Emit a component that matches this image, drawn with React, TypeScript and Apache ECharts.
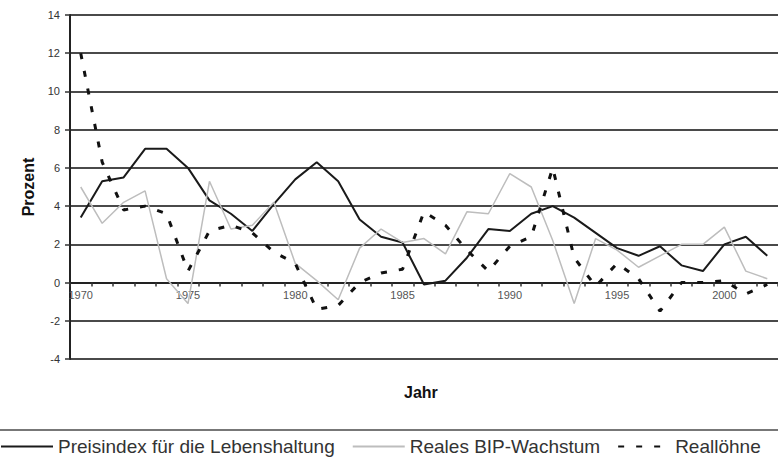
import React, { useEffect, useRef } from "react";
import * as echarts from "echarts";

const years = [
  "1970", "1971", "1972", "1973", "1974", "1975", "1976", "1977", "1978", "1979",
  "1980", "1981", "1982", "1983", "1984", "1985", "1986", "1987", "1988", "1989",
  "1990", "1991", "1992", "1993", "1994", "1995", "1996", "1997", "1998", "1999",
  "2000", "2001", "2002",
];

const preisindex = [
  3.4, 5.3, 5.5, 7.0, 7.0, 6.0, 4.3, 3.6, 2.7, 4.1,
  5.4, 6.3, 5.3, 3.3, 2.4, 2.1, -0.1, 0.1, 1.3, 2.8,
  2.7, 3.6, 4.0, 3.4, 2.6, 1.8, 1.4, 1.9, 0.9, 0.6,
  2.0, 2.4, 1.4,
];

const bipWachstum = [
  5.0, 3.1, 4.2, 4.8, 0.2, -1.1, 5.3, 2.8, 3.0, 4.2,
  1.0, 0.1, -0.9, 1.8, 2.8, 2.1, 2.3, 1.5, 3.7, 3.6,
  5.7, 5.0, 2.2, -1.1, 2.3, 1.7, 0.8, 1.4, 2.0, 2.0,
  2.9, 0.6, 0.2,
];

const realloehne = [
  12.0, 6.3, 3.8, 4.0, 3.6, 0.6, 2.7, 3.0, 2.6, 1.6,
  1.0, -1.4, -1.2, 0.0, 0.5, 0.7, 3.7, 3.0, 1.7, 0.6,
  1.9, 2.4, 6.0, 1.3, -0.2, 1.0, 0.2, -1.5, 0.0, 0.0,
  0.1, -0.6, -0.1,
];

const seriesNames = [
  "Preisindex für die Lebenshaltung",
  "Reales BIP-Wachstum",
  "Reallöhne",
];

const yMin = -4;
const yMax = 14;
const yStep = 2;

const GRID_TOP = 15;
const GRID_BOTTOM_Y = 359;

export default function App() {
  const ref = useRef<HTMLDivElement>(null);

  useEffect(() => {
    const chart = echarts.init(ref.current!, null, { renderer: "svg" });
    const font = "'Liberation Sans', Arial, sans-serif";
    const plotH = GRID_BOTTOM_Y - GRID_TOP;
    // move the category axis (line, ticks and labels) up to the value 0
    const zeroOffset = -plotH * (0 - yMin) / (yMax - yMin);
    chart.setOption({
      animation: false,
      backgroundColor: "#ffffff",
      textStyle: { fontFamily: font },
      grid: { left: 70, right: 0, top: GRID_TOP, bottom: 462 - GRID_BOTTOM_Y, containLabel: false },
      xAxis: {
        type: "category",
        data: years,
        boundaryGap: true,
        position: "bottom",
        offset: zeroOffset,
        axisLine: { onZero: false, lineStyle: { color: "#222", width: 2 } },
        axisTick: { show: true, interval: 0, length: 4, lineStyle: { color: "#333", width: 1.5 } },
        axisLabel: { interval: 4, color: "#555", fontSize: 11, fontFamily: font, margin: 7 },
        splitLine: { show: false },
      },
      yAxis: {
        type: "value",
        min: yMin,
        max: yMax,
        interval: yStep,
        name: "Prozent",
        nameLocation: "middle",
        nameGap: 33,
        nameTextStyle: { fontWeight: "bold", fontSize: 16, color: "#111", fontFamily: font },
        axisLine: { show: true, lineStyle: { color: "#222", width: 2 } },
        axisTick: { show: true, length: 5, lineStyle: { color: "#333", width: 1.5 } },
        axisLabel: { color: "#333", fontSize: 11, fontFamily: font, margin: 10 },
        splitLine: { show: true, lineStyle: { color: "#4a4a4a", width: 2 } },
      },
      legend: {
        top: 437,
        left: 0,
        padding: 0,
        itemWidth: 52,
        itemHeight: 14,
        itemGap: 17,
        itemStyle: { opacity: 0 },
        textStyle: { fontSize: 19, color: "#333", fontFamily: font },
        data: seriesNames,
      },
      graphic: [
        {
          type: "text",
          left: 404,
          top: 384,
          style: { text: "Jahr", font: `bold 16px ${font}`, fill: "#111" },
        },
        {
          type: "line",
          shape: { x1: 0, y1: 430, x2: 778, y2: 430 },
          style: { stroke: "#777", lineWidth: 2 },
        },
      ],
      series: [
        {
          name: seriesNames[0],
          type: "line",
          data: preisindex,
          symbol: "none",
          lineStyle: { color: "#1a1a1a", width: 2 },
          itemStyle: { color: "#1a1a1a" },
        },
        {
          name: seriesNames[1],
          type: "line",
          data: bipWachstum,
          symbol: "none",
          lineStyle: { color: "#bdbdbd", width: 1.5 },
          itemStyle: { color: "#bdbdbd" },
        },
        {
          name: seriesNames[2],
          type: "line",
          data: realloehne,
          symbol: "none",
          lineStyle: { color: "#111", width: 3, type: [6, 12] },
          itemStyle: { color: "#111" },
        },
      ],
    });
    return () => chart.dispose();
  }, []);

  return (
    <div
      ref={ref}
      style={{ position: "fixed", left: 0, top: 0, width: 778, height: 462, background: "#fff" }}
    />
  );
}
